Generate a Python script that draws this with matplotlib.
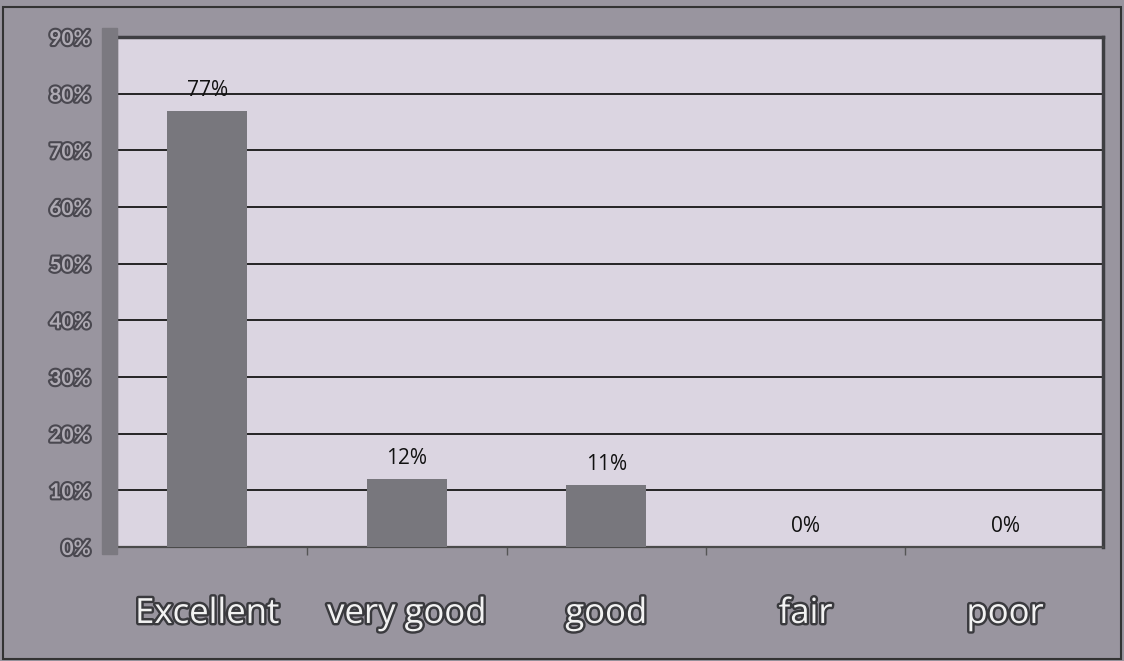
import matplotlib.pyplot as plt
import matplotlib.patheffects as pe
from matplotlib.patches import Rectangle

categories = ['Excellent', 'very good', 'good', 'fair', 'poor']
shares = [77, 12, 11, 0, 0]
bar_labels = ['77%', '12%', '11%', '0%', '0%']
y_ticks = list(range(0, 91, 10))
y_labels = ['%d%%' % v for v in y_ticks]

fig = plt.figure(figsize=(11.24, 6.61), dpi=100, facecolor='#99959f')
ax = fig.add_axes([0.104, 0.1725, 0.877, 0.7715])
ax.set_facecolor('#dbd5e1')

x = list(range(len(categories)))
ax.bar(x, shares, width=0.4, color='#78777d', zorder=3)
for i, (v, lab) in enumerate(zip(shares, bar_labels)):
    ax.text(i, v + 2.6, lab, ha='center', va='baseline', fontsize=15,
            family='Open Sans', color='#111111', zorder=4)

ax.set_yticks(y_ticks)
ax.yaxis.grid(True, color='#161616', linewidth=1.3)
ax.set_axisbelow(True)
ax.set_yticklabels(y_labels, fontsize=15, family='Lato', fontweight='bold',
                   color='#aeaab3')
for t in ax.get_yticklabels():
    t.set_path_effects([pe.withStroke(linewidth=3, foreground='#4a4850')])
ax.tick_params(axis='y', length=0, pad=19)

ax.set_xticks(x)
ax.set_xticklabels(categories, fontsize=25, family='Open Sans', color='#f2f2f2')
for t in ax.get_xticklabels():
    t.set_path_effects([pe.withStroke(linewidth=3.5, foreground='#3a3a3e')])
ax.tick_params(axis='x', which='major', length=0, pad=36)
ax.set_xticks([i - 0.5 for i in range(len(categories) + 1)], minor=True)
ax.tick_params(axis='x', which='minor', length=6, width=1, color='#555555')

# limits last, set_xticks widens the view otherwise
ax.set_xlim(-0.4536, 4.489)
ax.set_ylim(0, 90)

for s in ['left', 'bottom']:
    ax.spines[s].set_color('#4a4a4a')
    ax.spines[s].set_linewidth(1.6)
for s in ['top', 'right']:
    ax.spines[s].set_color('#3e3e42')
    ax.spines[s].set_linewidth(2.5)

# 3D side wall on the left of the plot
fig.patches.append(Rectangle((0.0906, 0.162), 0.0134, 0.796,
                             transform=fig.transFigure, color='#7b7980',
                             zorder=0))
fig.patches.append(Rectangle((0.003, 0.003), 0.994, 0.986, transform=fig.transFigure,
                             fill=False, edgecolor='#333333', linewidth=1.5))

fig.savefig('out.png', dpi=100, facecolor=fig.get_facecolor())
